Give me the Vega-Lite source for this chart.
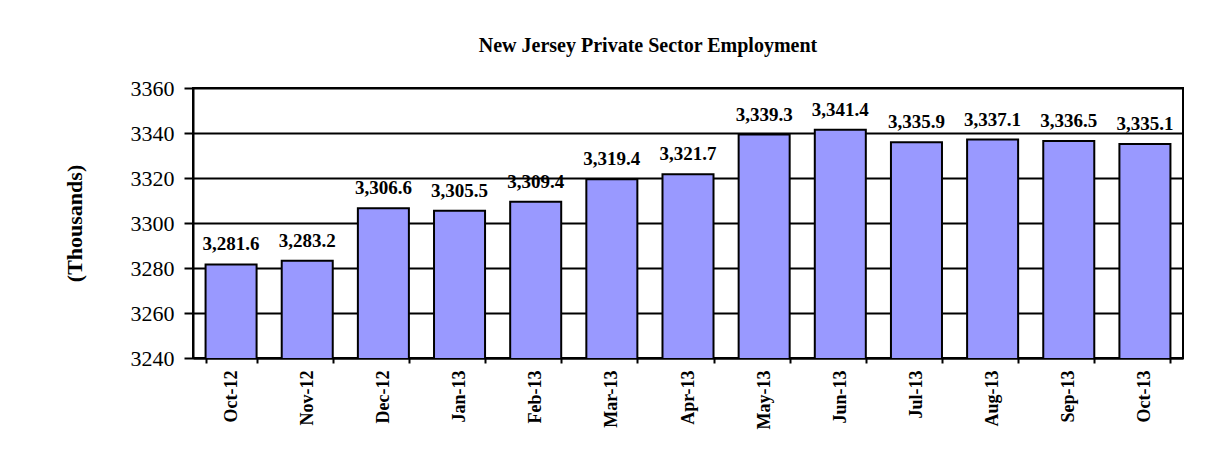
{
  "$schema": "https://vega.github.io/schema/vega-lite/v6.json",
  "autosize": "none",
  "width": 990,
  "height": 270,
  "padding": {"left": 193, "top": 88, "right": 41, "bottom": 112},
  "background": "white",
  "title": {
    "text": "New Jersey Private Sector Employment",
    "font": "Liberation Serif",
    "fontSize": 20,
    "fontWeight": "bold",
    "color": "black",
    "anchor": "middle",
    "dx": -40,
    "offset": 21
  },
  "data": {
    "values": [
      {"month": "Oct-12", "value": 3281.6},
      {"month": "Nov-12", "value": 3283.2},
      {"month": "Dec-12", "value": 3306.6},
      {"month": "Jan-13", "value": 3305.5},
      {"month": "Feb-13", "value": 3309.4},
      {"month": "Mar-13", "value": 3319.4},
      {"month": "Apr-13", "value": 3321.7},
      {"month": "May-13", "value": 3339.3},
      {"month": "Jun-13", "value": 3341.4},
      {"month": "Jul-13", "value": 3335.9},
      {"month": "Aug-13", "value": 3337.1},
      {"month": "Sep-13", "value": 3336.5},
      {"month": "Oct-13", "value": 3335.1}
    ]
  },
  "encoding": {
    "x": {
      "field": "month",
      "type": "nominal",
      "sort": null,
      "scale": {"paddingInner": 0.33, "paddingOuter": 0.165},
      "axis": {
        "title": null,
        "labelAngle": -90,
        "labelFont": "Liberation Serif",
        "labelFontSize": 18,
        "labelFontWeight": "bold",
        "labelColor": "black",
        "labelPadding": 7,
        "tickBand": "extent",
        "tickSize": 5,
        "tickColor": "black",
        "tickWidth": 2,
        "domainColor": "black",
        "domainWidth": 2,
        "grid": false
      }
    },
    "y": {
      "field": "value",
      "type": "quantitative",
      "scale": {"domain": [3240, 3360], "zero": false, "nice": false},
      "axis": {
        "title": "(Thousands)",
        "titleFont": "Liberation Serif",
        "titleFontSize": 22,
        "titleFontWeight": "bold",
        "titleColor": "black",
        "titlePadding": 44,
        "values": [3240, 3260, 3280, 3300, 3320, 3340, 3360],
        "format": "d",
        "labelFont": "Liberation Serif",
        "labelFontSize": 22,
        "labelColor": "black",
        "labelPadding": 10,
        "tickSize": 9,
        "tickColor": "black",
        "tickWidth": 2,
        "domainColor": "black",
        "domainWidth": 2,
        "grid": true,
        "gridColor": "black",
        "gridWidth": 2,
        "gridOpacity": 1
      }
    }
  },
  "layer": [
    {
      "mark": {"type": "bar", "fill": "#9999FF", "stroke": "black", "strokeWidth": 2, "clip": true}
    },
    {
      "mark": {
        "type": "text",
        "font": "Liberation Serif",
        "fontSize": 19,
        "fontWeight": "bold",
        "color": "black",
        "baseline": "alphabetic",
        "dy": -14
      },
      "encoding": {
        "text": {"field": "value", "type": "quantitative", "format": ",.1f"}
      }
    }
  ],
  "config": {
    "view": {"stroke": "black", "strokeWidth": 2}
  }
}
